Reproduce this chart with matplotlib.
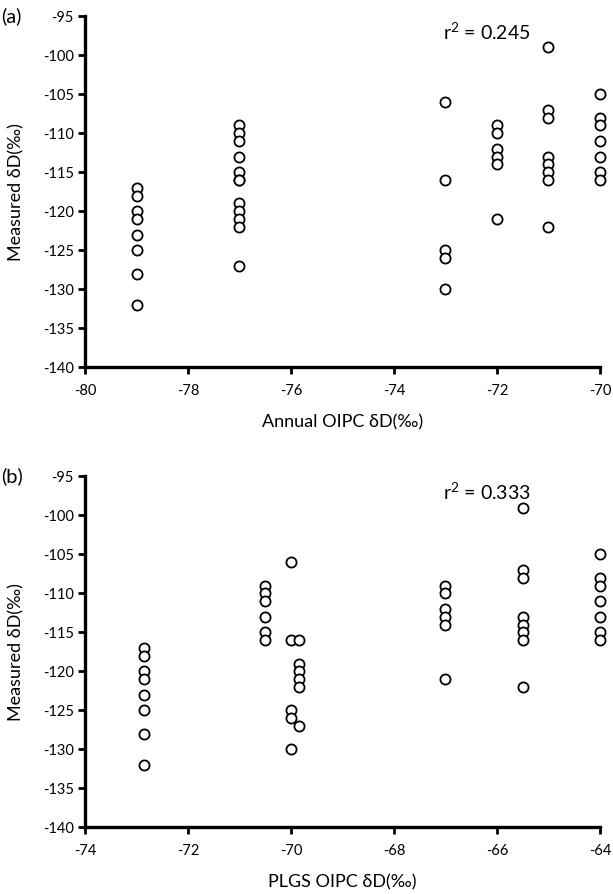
"""Measured vs OIPC deltaD scatter, two panels."""

import matplotlib

matplotlib.use('Agg')
from matplotlib import pyplot as plt

plt.rcParams['font.family'] = ['Lato', 'DejaVu Sans']
plt.rcParams['mathtext.fontset'] = 'custom'
plt.rcParams['mathtext.rm'] = 'Lato'

# panel (a): annual OIPC dD columns
annual_x = [-79, -77, -73, -72, -71, -70]
annual_y = [
    [-117, -118, -120, -121, -123, -125, -128, -132],
    [-109, -110, -111, -113, -115, -116, -116, -119, -120, -121, -122, -127],
    [-106, -116, -125, -126, -130],
    [-109, -110, -112, -113, -114, -121],
    [-99, -107, -108, -113, -114, -115, -116, -122],
    [-105, -108, -109, -111, -113, -115, -116],
]

# panel (b): PLGS OIPC dD columns
plgs_x = [-72.85, -70.5, -70.0, -69.85, -67.0, -65.5, -64.0]
plgs_y = [
    [-117, -118, -120, -121, -123, -125, -128, -132],
    [-109, -110, -111, -113, -115, -116],
    [-106, -116, -125, -126, -130],
    [-116, -119, -120, -121, -122, -127],
    [-109, -110, -112, -113, -114, -121],
    [-99, -107, -108, -113, -114, -115, -116, -122],
    [-105, -108, -109, -111, -113, -115, -116],
]

y_ticks = [-95, -100, -105, -110, -115, -120, -125, -130, -135, -140]
annual_ticks = [-80, -78, -76, -74, -72, -70]
plgs_ticks = [-74, -72, -70, -68, -66, -64]


def flatten(xs, ys):
    """Expand column positions into point lists."""
    px, py = [], []
    for x, col in zip(xs, ys):
        px += [x] * len(col)
        py += col
    return px, py


def panel(ax, xs, ys, xticks, xlabel, tag, r2):
    px, py = flatten(xs, ys)
    ax.plot(px, py, 'o', mfc='white', mec='black', ms=7.3, mew=1.3,
            ls='none', clip_on=False, zorder=3)
    ax.set_xlim(xticks[0], xticks[-1])
    ax.set_ylim(-140, -95)
    ax.set_xticks(xticks)
    ax.set_yticks(y_ticks)
    ax.set_xticklabels([str(t) for t in xticks])
    ax.set_yticklabels([str(t) for t in y_ticks])
    for side in ('top', 'right'):
        ax.spines[side].set_visible(False)
    for side in ('left', 'bottom'):
        ax.spines[side].set_linewidth(2.4)
    ax.tick_params(direction='out', length=5, width=2, labelsize=10.5, pad=3)
    ax.tick_params(axis='x', pad=7)
    ax.set_xlabel(xlabel, fontsize=13, labelpad=12)
    ax.set_ylabel('Measured δD(‰)', fontsize=13)
    ax.yaxis.set_label_coords(-0.117, 0.5)
    ax.text(-0.163, 1.0, tag, transform=ax.transAxes, fontsize=14.5,
            va='center', ha='left')
    ax.text(0.695, 0.955, r'r$^{2}$ = ' + r2, transform=ax.transAxes,
            fontsize=14, va='center', ha='left')


fig = plt.figure(figsize=(6.13, 8.94), dpi=100)
ax_a = fig.add_axes([0.1387, 0.5892, 0.84, 0.3926])
ax_b = fig.add_axes([0.1387, 0.0746, 0.84, 0.3926])

panel(ax_a, annual_x, annual_y, annual_ticks, 'Annual OIPC δD(‰)', '(a)', '0.245')
panel(ax_b, plgs_x, plgs_y, plgs_ticks, 'PLGS OIPC δD(‰)', '(b)', '0.333')

fig.savefig('out.png', dpi=100)
